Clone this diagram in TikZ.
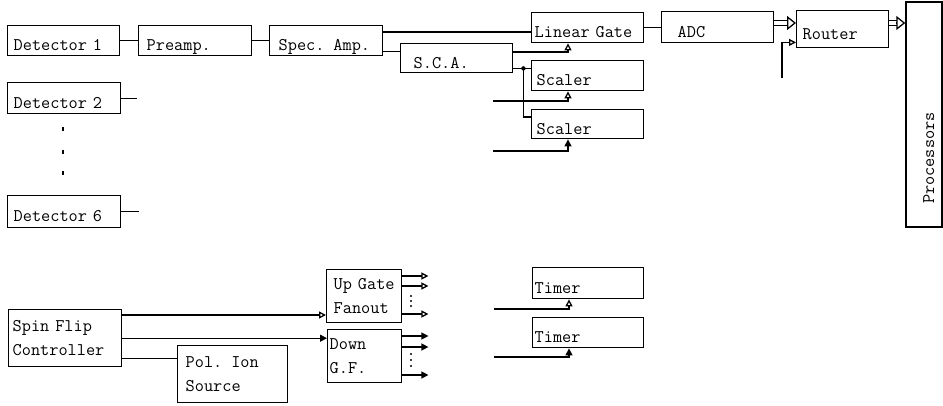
\documentclass[tikz,border=0pt]{standalone}
\usepackage{fontspec}
\usetikzlibrary{arrows.meta,calc}
\tikzset{
  blk/.style={draw, line width=1.4pt, anchor=north west, align=left, inner ysep=0pt,
    font=\ttfamily\fontsize{17.8}{23.5}\selectfont},
  one/.style={text height=20pt, text depth=0pt},
  wire/.style={line width=1.3pt},
  opentip/.style={wire, -{Triangle[open, length=7pt, width=7pt]}},
  fulltip/.style={wire, -{Triangle[length=7pt, width=7pt]}},
  dbl/.style={double, double distance=3.5pt, line width=1.2pt, shorten >=8pt},
  bigtip/.style={wire, -{Triangle[open, length=9pt, width=14pt]}}
}
\begin{document}
\begin{tikzpicture}[x=1pt,y=-1pt]
\useasboundingbox (0,0) rectangle (943,406);
\node[blk, one, minimum height=30pt, inner xsep=6pt, text width=100pt] (det1) at (7,25) {Detector 1};
\node[blk, one, minimum height=30pt, inner xsep=8pt, text width=97pt] (pre) at (138,25) {Preamp.};
\node[blk, one, minimum height=30pt, inner xsep=9pt, text width=95pt] (spec) at (269,25) {Spec. Amp.};
\node[blk, one, minimum height=31pt, inner xsep=6pt, text width=101pt] (det2) at (7,82) {Detector 2};
\node[blk, one, minimum height=32pt, inner xsep=6pt, text width=101pt] (det6) at (7,195) {Detector 6};
\node[blk, one, minimum height=30pt, inner xsep=3pt, text width=106pt] (lg) at (531,12) {Linear Gate};
\node[blk, one, minimum height=29pt, inner xsep=13pt, text width=86pt] (sca) at (400,43) {S.C.A.};
\node[blk, one, minimum height=30pt, inner xsep=5pt, text width=102pt] (sc1) at (531,60) {Scaler};
\node[blk, one, minimum height=29pt, inner xsep=5pt, text width=102pt] (sc2) at (531,109) {Scaler};
\node[blk, one, minimum height=31pt, inner xsep=16pt, text width=80pt] (adc) at (661,11) {ADC};
\node[blk, one, minimum height=37pt, inner xsep=6pt, text width=80pt] (router) at (796,10) {Router};
\node[blk, one, anchor=center, rotate=90, minimum height=36pt, inner xsep=23pt, text width=179pt] (proc) at (924,114.5) {Processors};
\node[blk, minimum height=57pt, inner xsep=4pt, text width=105pt] (sfc) at (8,309) {Spin Flip\\Controller};
\node[blk, minimum height=57pt, inner xsep=8pt, text width=94pt] (pis) at (177,345) {Pol. Ion\\Source};
\node[blk, minimum height=53pt, inner xsep=7pt, text width=61pt] (upg) at (326,269) {Up Gate\\Fanout};
\node[blk, minimum height=53pt, inner xsep=2pt, text width=70pt] (dgf) at (327,329) {Down\\G.F.};
\node[blk, one, minimum height=31pt, inner xsep=2pt, text width=107pt] (tm1) at (532,267) {Timer};
\node[blk, one, minimum height=30pt, inner xsep=2pt, text width=107pt] (tm2) at (532,317) {Timer};

\draw[wire] (det1) -- (pre);
\draw[wire] (pre) -- (spec);
\draw[wire] (det2.east) -- ([xshift=16pt]det2.east);
\draw[wire] (det6.east) -- ([xshift=18pt]det6.east);
\foreach \y in {129,152,173}
  \draw[line width=1.5pt] (63,\y-2) -- (63,\y+2);

\draw[wire] ([yshift=-7pt]spec.north east) -- ([yshift=-7pt]spec.north east -| lg.west);
\draw[wire] ([yshift=5pt]spec.south east) -- ([yshift=5pt]spec.south east -| sca.west);
\draw[opentip] ([yshift=-9pt]sca.north east) -| ([xshift=37pt]lg.south west);
\coordinate (tap) at ([xshift=10pt,yshift=5pt]sca.south east);
\draw[wire] ([yshift=5pt]sca.south east) -- (tap -| sc1.west);
\fill (tap) circle (2.2pt);
\draw[wire] (tap) |- ([yshift=-8pt]sc2.north west);
\coordinate (in1) at (493,101);
\coordinate (in2) at (493,151);
\draw[opentip] (in1) -| ([xshift=37pt]sc1.south west);
\draw[fulltip] (in2) -| ([xshift=37pt]sc2.south west);

\draw[wire] (lg.east) -- (lg.east -| adc.west);
\coordinate (r1) at ([yshift=-12pt]adc.north east -| router.west);
\draw[dbl] ([yshift=-12pt]adc.north east) -- (r1);
\draw[bigtip] ([xshift=-9pt]r1) -- (r1);
\coordinate (rin) at (782,78);
\draw[opentip] (rin) |- ([yshift=6pt]router.south west);
\coordinate (p1) at ([yshift=-13pt]router.north east -| proc.north);
\draw[dbl] ([yshift=-13pt]router.north east) -- (p1);
\draw[bigtip] ([xshift=-9pt]p1) -- (p1);

\draw[opentip] ([yshift=-6pt]sfc.north east) -- ([yshift=-6pt]sfc.north east -| upg.west);
\draw[fulltip] (sfc.east) -- (sfc.east -| dgf.west);
\draw[wire] ([yshift=9pt]sfc.south east) -- ([yshift=9pt]sfc.south east -| pis.west);
\foreach \d in {7,17,45}
  \draw[opentip] ([yshift=-\d pt]upg.north east) -- ([xshift=26pt,yshift=-\d pt]upg.north east);
\foreach \d in {7,18,46}
  \draw[fulltip] ([yshift=-\d pt]dgf.north east) -- ([xshift=26pt,yshift=-\d pt]dgf.north east);
\foreach \y in {296,301,306,354,360,366}
  \fill (411,\y) circle (1.1pt);
\coordinate (in3) at (494,309);
\coordinate (in4) at (494,357);
\draw[opentip] (in3) -| ([xshift=37pt]tm1.south west);
\draw[fulltip] (in4) -| ([xshift=37pt]tm2.south west);
\end{tikzpicture}
\end{document}
